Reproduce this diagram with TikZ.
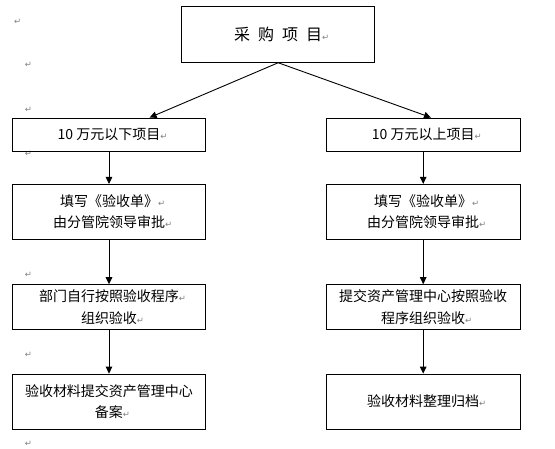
\documentclass[tikz,border=0pt]{standalone}
\usepackage{fontspec}
\setmainfont{Noto Sans CJK SC}
\newfontfamily\markfont{DejaVu Sans}
\usetikzlibrary{arrows.meta}
\definecolor{markgray}{RGB}{128,128,128}
\newcommand{\parmk}{\rlap{\markfont\fontsize{8.5}{9}\selectfont\color{markgray}↵}}
\tikzset{
  box/.style={draw, line width=0.9pt, inner sep=0pt, align=center,
    font=\fontsize{14}{21.4}\selectfont},
  wbox/.style={box, minimum width=193pt},
  pmark/.style={inner sep=0pt, font=\markfont\fontsize{8.5}{9}\selectfont, text=markgray},
  conn/.style={line width=0.9pt, -{Triangle[length=7pt,width=6.5pt]}}
}
\begin{document}
\begin{tikzpicture}[x=1pt,y=-1pt]
\useasboundingbox (0,0) rectangle (555,449);
\fill[white] (0,0) rectangle (555,449);
% paragraph marks outside boxes
\node[pmark] (m1) at (17.8,21.4) {↵};
\node[pmark] (m2) at (28.5,65.2) {↵};
\node[pmark] (m3) at (28.5,109.7) {↵};
\node[pmark] (m4) at (28.5,154.3) {↵};
\node[pmark] (m5) at (28.5,275) {↵};
\node[pmark] (m6) at (28.5,354.6) {↵};
\node[pmark] (m7) at (28.5,443.6) {↵};
% boxes
\node[box, minimum width=193pt, minimum height=56pt, font=\fontsize{16}{20}\selectfont] (top) at (278.2,34.3)
  {采\hspace{8pt}购\hspace{8pt}项\hspace{8pt}目\parmk};
\node[wbox, minimum height=33pt] (b2l) at (109,134.5) {10 万元以下项目\parmk};
\node[wbox, minimum width=194pt, minimum height=33pt] (b2r) at (423.2,134.5) {10 万元以上项目\parmk};
\node[wbox, minimum height=55pt] (b3l) at (109,211.9) {填写《验收单》\parmk\\由分管院领导审批\parmk};
\node[wbox, minimum width=194pt, minimum height=55pt] (b3r) at (423.2,211.9) {填写《验收单》\parmk\\由分管院领导审批\parmk};
\node[wbox, minimum height=45pt] (b4l) at (109,307.2) {部门自行按照验收程序\parmk\\组织验收\parmk};
\node[wbox, minimum width=194pt, minimum height=45pt] (b4r) at (423.2,307.2) {提交资产管理中心按照验收\\程序组织验收\parmk};
\node[wbox, minimum height=55pt] (b5l) at (109,401.6) {验收材料提交资产管理中心\\备案\parmk};
\node[wbox, minimum width=194pt, minimum height=55pt] (b5r) at (423.2,401.6) {验收材料整理归档\parmk};
% connectors
\draw[conn] (top.south) -- ([xshift=40.6pt]b2l.north);
\draw[conn] (top.south) -- ([xshift=7.8pt]b2r.north);
\draw[conn] (b2l.south) -- (b3l.north);
\draw[conn] (b3l.south) -- (b4l.north);
\draw[conn] (b4l.south) -- (b5l.north);
\draw[conn] (b2r.south) -- (b3r.north);
\draw[conn] (b3r.south) -- (b4r.north);
\draw[conn] (b4r.south) -- (b5r.north);
\end{tikzpicture}
\end{document}
